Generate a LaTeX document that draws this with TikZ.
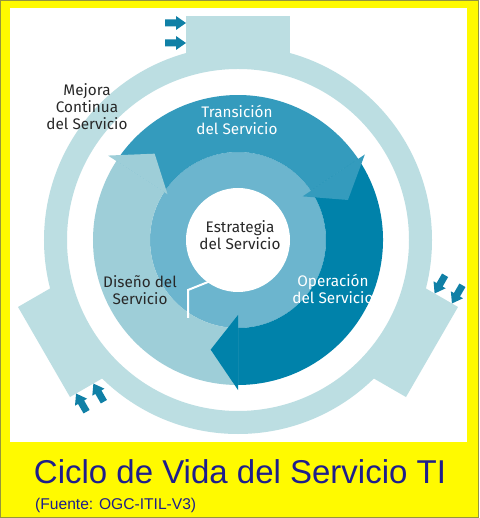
\documentclass[tikz,border=0pt]{standalone}
\usepackage{fontspec}
\newfontfamily\labelfont{Fira Sans}
\newfontfamily\titlefont{Liberation Sans}
\usetikzlibrary{positioning}

\definecolor{frameyellow}{RGB}{255,250,0}
\definecolor{frameedge}{RGB}{150,150,60}
\definecolor{ringpale}{RGB}{188,222,226}
\definecolor{coreblue}{RGB}{108,181,206}
\definecolor{transblue}{RGB}{52,155,189}
\definecolor{operblue}{RGB}{0,130,170}
\definecolor{designblue}{RGB}{158,206,216}
\definecolor{arrowteal}{RGB}{16,128,166}
\definecolor{labelgray}{RGB}{40,40,40}
\definecolor{titlenavy}{RGB}{30,30,140}

\begin{document}
\begin{tikzpicture}[
x=1pt, y=1pt,
lbl/.style={font=\labelfont\fontsize{15.3}{17}\selectfont, align=center, text=labelgray},
lblw/.style={lbl, text=white},
title/.style={font=\titlefont\fontsize{33}{36}\selectfont, text=titlenavy, inner sep=0pt},
source/.style={font=\titlefont\fontsize{15.6}{18}\selectfont, text=titlenavy, inner sep=0pt},
]

\fill[frameyellow] (-238,240) rectangle (241,-278);
\useasboundingbox (-238,240) rectangle (241,-278);
\draw[frameedge, line width=1] (-237.5,239.5) rectangle (240.5,-277.5);
\fill[white] (-228,232) rectangle (229,-202);

% outer ring, tabs and input arrows
\fill[ringpale, even odd rule] (0,0) circle (194) (0,0) circle (171);
\foreach \r in {0,120,-120} {
  \begin{scope}[rotate=\r]
    \fill[ringpale] (-52,185) rectangle (52,224);
    \foreach \h in {197,217}
      \fill[arrowteal] (-73,\h-3.5) -- (-62,\h-3.5) -- (-62,\h-7) -- (-52,\h)
        -- (-62,\h+7) -- (-62,\h+3.5) -- (-73,\h+3.5) -- cycle;
  \end{scope}
}

\fill[coreblue] (0,0) circle (88);

\fill[transblue] (147:145) arc[start angle=147, end angle=34, radius=145]
  -- (34:88) arc[start angle=34, end angle=147, radius=88] -- cycle;
\fill[operblue] (34:145) arc[start angle=34, end angle=-90, radius=145]
  -- (-90:88) arc[start angle=-90, end angle=34, radius=88] -- cycle;
\fill[designblue] (-90:145) arc[start angle=-90, end angle=-213, radius=145]
  -- (-213:88) arc[start angle=-213, end angle=-90, radius=88] -- cycle;

\fill[transblue] (34:153) -- (20:117) -- (34:78) -- cycle;
\fill[operblue] (-90:150) -- (-104:113) -- (-90:75) -- cycle;
\fill[designblue] (147:155) -- (134:120) -- (147:84) -- cycle;

\fill[white] (0,0) circle (52);
\draw[white, line width=2] (-25,-40) -- (-50,-50) -- (-50,-78);

\node[lbl] (mejora) at (-151,133) {Mejora\\Continua\\del Servicio};
\node[lblw] (transicion) at (-1,120) {Transición\\del Servicio};
\node[lbl] (estrategia) at (2,4.5) {Estrategia\\del Servicio};
\node[lbl] (diseno) at (-98,-50) {Diseño del\\Servicio};
\node[lblw] (operacion) at (95,-48.5) {Operación\\del Servicio};

\node[title, anchor=base] (titulo) at (2,-243) {Ciclo de Vida del Servicio TI};
\node[source, anchor=base west] (fuente) at (-203,-269) {(Fuente: OGC-ITIL-V3)};

\end{tikzpicture}
\end{document}
